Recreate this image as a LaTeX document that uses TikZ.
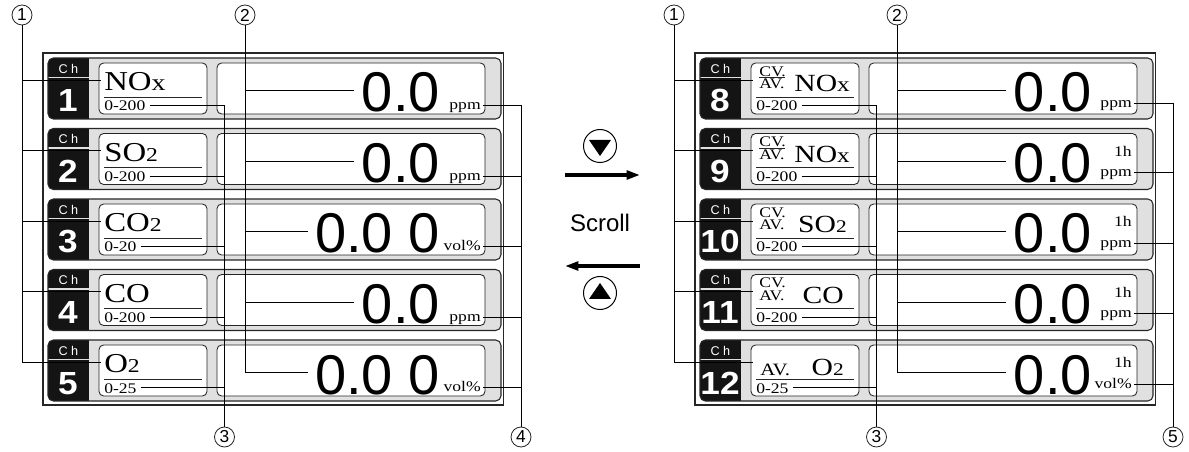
\documentclass[tikz,border=0pt]{standalone}
\usepackage{fontspec}
\setmainfont{Liberation Serif}
\setsansfont{Liberation Sans}
\usepackage{graphicx}
\usetikzlibrary{arrows.meta}
\newcommand\ws[1]{\scalebox{1.2}[1]{#1}}
\newcommand\smc[1]{\scalebox{0.72}{#1}}
\newcommand\smx{\scalebox{0.85}{x}}
\tikzset{
  frame/.style={draw=black!85,line width=0.9pt},
  rowbox/.style={fill=black!12},
  rowline/.style={draw=black!85,line width=0.8pt,rounded corners=4pt},
  wbox/.style={draw=black!85,line width=0.65pt,fill=white,rounded corners=3.5pt},
  ulinest/.style={draw=black!85,line width=0.6pt},
  leader/.style={draw=black,line width=0.7pt},
  chtext/.style={text=white,inner sep=0pt,font=\sffamily\fontsize{9.5}{9.5}\selectfont},
  chnum/.style={text=white,inner sep=0pt,anchor=base,font=\sffamily\bfseries\fontsize{24}{24}\selectfont},
  nametext/.style={inner sep=0pt,anchor=base west,font=\fontsize{20.5}{20.5}\selectfont},
  rnametext/.style={inner sep=0pt,anchor=base east,font=\fontsize{18.5}{18.5}\selectfont},
  avtext/.style={inner sep=0pt,anchor=base west,font=\fontsize{11}{11}\selectfont},
  rngtext/.style={inner sep=0pt,anchor=base west,text height=8.25pt,text depth=0pt,font=\fontsize{11}{11}\selectfont},
  digtext/.style={inner sep=0pt,anchor=base east,text height=32.25pt,text depth=0pt,font=\sffamily\fontsize{42}{42}\selectfont},
  unittext/.style={inner sep=0pt,anchor=base east,text height=6.75pt,text depth=0pt,font=\fontsize{11}{11}\selectfont},
  callout/.style={circle,draw=black!85,line width=0.6pt,minimum size=15pt,inner sep=0pt,font=\sffamily\fontsize{13}{13}\selectfont},
  btn/.style={circle,draw=black,line width=0.75pt,minimum size=24.75pt,inner sep=0pt},
  scrollarrow/.style={draw=black,line width=2.4pt,-{Triangle[length=10pt,width=6.5pt]}},
}
% #1 xshift, #2 ytop, #3 id, #4 channel, #5 name code, #6 range, #7 digits, #8 unit code
\newcommand\panelrow[8]{%
\begin{scope}[shift={(#1,#2)}]
  \fill[rowbox,rounded corners=4pt] (48,0) rectangle (501,61);
  \begin{scope}
    \clip[rounded corners=4pt] (48,0) rectangle (501,61);
    \fill[black!92] (48,0) rectangle (89,19);
    \fill[black!92] (48,20.5) rectangle (89,61);
  \end{scope}
  \draw[rowline] (48,0) rectangle (501,61);
  \path[wbox] (99,5) rectangle (207,56);
  \path[wbox] (217,5) rectangle (485,56);
  \draw[ulinest] (104,39) -- (202,39);
  \node[chtext] (#3-ch) at (68.5,10.5) {C\hspace{2.5pt}h};
  \node[chnum] (#3-num) at (68,54) {\scalebox{1.1}[1]{#4}};
  \coordinate (#3-p1) at (101,22);
  \node[rngtext] (#3-rng) at (104,53) {\ws{#6}};
  \node[digtext] (#3-dig) at (440,54) {#7};
  #5
  #8
\end{scope}}

\begin{document}
\begin{tikzpicture}[x=0.75pt,y=-0.75pt]
\useasboundingbox (0,0) rectangle (1189,452);

% ---------- left panel ----------
\draw[frame] (43,53) rectangle (503.5,405);
\panelrow{0}{58}{L1}{1}{\node[nametext] (L1-name) at (104,33) {\ws{NO\smx}};}{0-200}{0.0}{\node[unittext] (L1-unit) at (481,52) {\ws{ppm}};}
\panelrow{0}{128.5}{L2}{2}{\node[nametext] (L2-name) at (104,33) {\ws{SO\smc{2}}};}{0-200}{0.0}{\node[unittext] (L2-unit) at (481,52) {\ws{ppm}};}
\panelrow{0}{199}{L3}{3}{\node[nametext] (L3-name) at (104,33) {\ws{CO\smc{2}}};}{0-20}{0.0 0}{\node[unittext] (L3-unit) at (481,52) {\ws{vol\%}};}
\panelrow{0}{269.5}{L4}{4}{\node[nametext] (L4-name) at (104,33) {\ws{CO}};}{0-200}{0.0}{\node[unittext] (L4-unit) at (481,52) {\ws{ppm}};}
\panelrow{0}{340}{L5}{5}{\node[nametext] (L5-name) at (104,33) {\ws{O\smc{2}}};}{0-25}{0.0 0}{\node[unittext] (L5-unit) at (481,52) {\ws{vol\%}};}

% ---------- right panel ----------
\draw[frame] (695,53) rectangle (1155.5,405);
\panelrow{652}{58}{R8}{8}{%
  \node[avtext] (R8-cv) at (107,18.5) {\ws{CV.}};
  \node[avtext] (R8-av) at (107,31) {\ws{AV.}};
  \draw[ulinest] ([yshift=1.2pt]R8-av.north west) -- ([yshift=1.2pt]R8-av.north east);
  \node[rnametext] (R8-name) at (198,34) {\ws{NO\smx}};}{0-200}{0.0}{%
  \node[unittext] (R8-unit) at (480,50) {\ws{ppm}};}
\panelrow{652}{128.5}{R9}{9}{%
  \node[avtext] (R9-cv) at (107,18.5) {\ws{CV.}};
  \node[avtext] (R9-av) at (107,31) {\ws{AV.}};
  \draw[ulinest] ([yshift=1.2pt]R9-av.north west) -- ([yshift=1.2pt]R9-av.north east);
  \node[rnametext] (R9-name) at (198,34) {\ws{NO\smx}};}{0-200}{0.0}{%
  \node[unittext] (R9-h) at (480,28) {\ws{1h}};
  \node[unittext] (R9-unit) at (480,48.5) {\ws{ppm}};}
\panelrow{652}{199}{R10}{10}{%
  \node[avtext] (R10-cv) at (107,18.5) {\ws{CV.}};
  \node[avtext] (R10-av) at (107,31) {\ws{AV.}};
  \node[rnametext] (R10-name) at (195,34) {\ws{SO\smc{2}}};}{0-200}{0.0}{%
  \node[unittext] (R10-h) at (480,28) {\ws{1h}};
  \node[unittext] (R10-unit) at (480,48.5) {\ws{ppm}};}
\panelrow{652}{269.5}{R11}{11}{%
  \node[avtext] (R11-cv) at (107,18.5) {\ws{CV.}};
  \node[avtext] (R11-av) at (107,31) {\ws{AV.}};
  \node[rnametext] (R11-name) at (192,34) {\ws{CO}};}{0-200}{0.0}{%
  \node[unittext] (R11-h) at (480,28) {\ws{1h}};
  \node[unittext] (R11-unit) at (480,48.5) {\ws{ppm}};}
\panelrow{652}{340}{R12}{12}{%
  \node[avtext,font=\fontsize{13}{13}\selectfont] (R12-av) at (108,35) {\ws{AV.}};
  \node[rnametext] (R12-name) at (192,35) {\ws{O\smc{2}}};}{0-25}{0.0}{%
  \node[unittext] (R12-h) at (480,28) {\ws{1h}};
  \node[unittext] (R12-unit) at (480,48.5) {\ws{vol\%}};}

% ---------- callouts ----------
\node[callout] (c1L) at (22,15) {1};
\node[callout] (c2L) at (245,15) {2};
\node[callout] (c3L) at (224.5,437) {3};
\node[callout] (c4L) at (521,437) {4};
\node[callout] (c1R) at (674,15) {1};
\node[callout] (c2R) at (897,15) {2};
\node[callout] (c3R) at (876.5,437) {3};
\node[callout] (c5R) at (1173,437) {5};

% left leaders
\draw[leader] (c1L.south) |- (L5-p1);
\foreach \k in {1,...,4} \draw[leader] (c1L.south |- L\k-p1) -- (L\k-p1);
\draw[leader,shorten >=5.5pt] (c2L.south) |- (L5-dig.west);
\foreach \k in {1,...,4} \draw[leader,shorten >=5.5pt] (c2L.south |- L\k-dig.west) -- (L\k-dig.west);
\draw[leader,shorten <=3pt] (L1-rng.east) -| (c3L.north);
\foreach \k in {2,...,5} \draw[leader,shorten <=3pt] (L\k-rng.east) -- (c3L.north |- L\k-rng.east);
\draw[leader,shorten <=1.5pt] (L1-unit.east) -| (c4L.north);
\foreach \k in {2,...,5} \draw[leader,shorten <=1.5pt] (L\k-unit.east) -- (c4L.north |- L\k-unit.east);

% right leaders
\draw[leader] (c1R.south) |- (R12-p1);
\foreach \k in {8,...,11} \draw[leader] (c1R.south |- R\k-p1) -- (R\k-p1);
\draw[leader,shorten >=5.5pt] (c2R.south) |- (R12-dig.west);
\foreach \k in {8,...,11} \draw[leader,shorten >=5.5pt] (c2R.south |- R\k-dig.west) -- (R\k-dig.west);
\draw[leader,shorten <=3pt] (R8-rng.east) -| (c3R.north);
\foreach \k in {9,...,12} \draw[leader,shorten <=3pt] (R\k-rng.east) -- (c3R.north |- R\k-rng.east);
\draw[leader,shorten <=1.5pt] (R8-unit.east) -| (c5R.north);
\foreach \k in {9,...,12} \draw[leader,shorten <=1.5pt] (R\k-unit.east) -- (c5R.north |- R\k-unit.east);

% ---------- scroll ----------
\node[btn] (btnDown) at (600,146) {};
\fill ([shift={(-11,-6)}]btnDown.center) -- ([shift={(11,-6)}]btnDown.center) -- ([shift={(0,10)}]btnDown.center) -- cycle;
\coordinate (a1s) at (565,175);
\coordinate (a1e) at (640,175);
\draw[scrollarrow] (a1s) -- (a1e);
\node[inner sep=0pt,font=\sffamily\fontsize{18}{18}\selectfont] (scroll) at (600,223) {Scroll};
\coordinate (a2s) at (640,266);
\coordinate (a2e) at (565,266);
\draw[scrollarrow] (a2s) -- (a2e);
\node[btn] (btnUp) at (600,293) {};
\fill ([shift={(-11,6)}]btnUp.center) -- ([shift={(11,6)}]btnUp.center) -- ([shift={(0,-10)}]btnUp.center) -- cycle;
\end{tikzpicture}
\end{document}
